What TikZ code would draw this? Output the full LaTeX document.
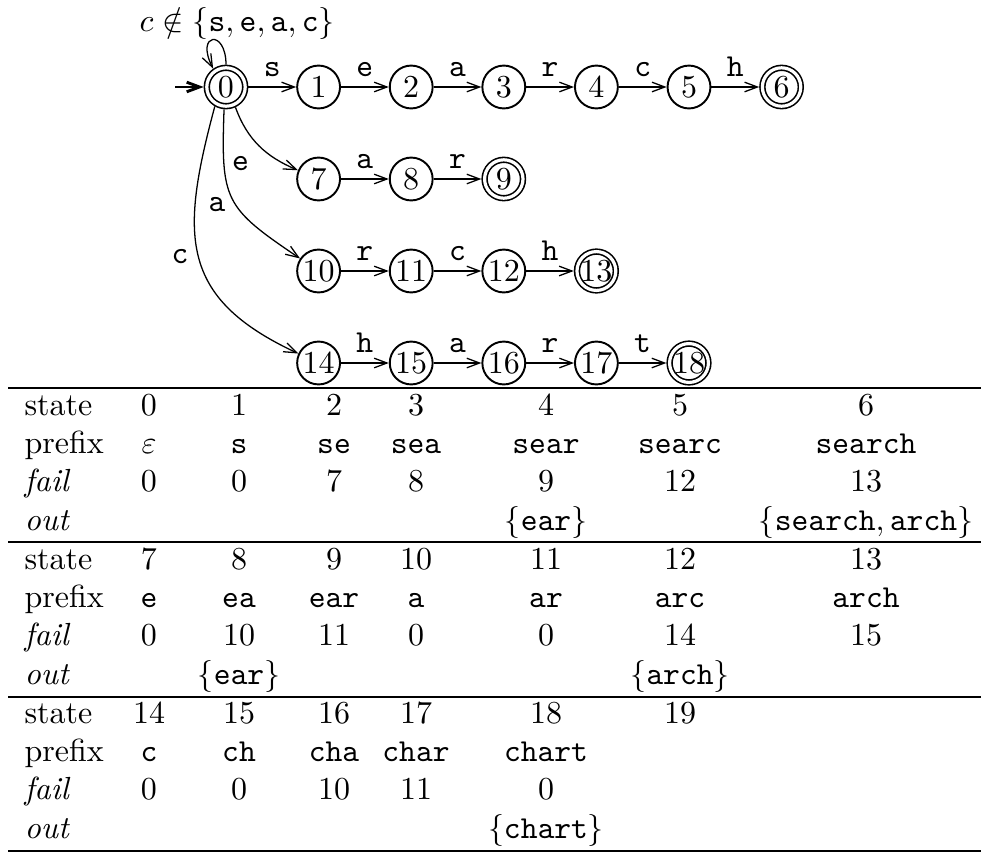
\documentclass[tikz,border=0pt]{standalone}
\usepackage{amsmath}
\usepackage{amssymb}
\usetikzlibrary{arrows.meta}

\begin{document}
\begin{tikzpicture}[x=0.3125pt, y=0.3125pt]
  \tikzset{state/.style={circle, draw, line width=0.6pt, minimum size=13.4pt, inner sep=0pt},
           accept/.style={circle, draw, double, double distance=1pt, line width=0.5pt,
                          minimum size=12pt, inner sep=0pt, outer sep=1pt},
           edge/.style={-{Straight Barb[length=4pt,width=3pt]}, line width=0.4pt},
           sym/.style={font=\ttfamily, inner sep=3pt},
           cell/.style={anchor=base, inner sep=0pt},
           rowname/.style={anchor=base west, inner sep=0pt},
           rule/.style={line width=0.8pt}}
  \useasboundingbox (0,0) rectangle (981,-855);
  % the trie
  \foreach \n/\i/\j in {1/1/0,2/2/0,3/3/0,4/4/0,5/5/0,7/1/1,8/2/1,10/1/2,11/2/2,12/3/2,
                        14/1/3,15/2/3,16/3/3,17/4/3}
    \node[state] (q\n) at (226+92.6*\i,-87-92*\j) {\n};
  \foreach \n/\i/\j in {0/0/0,6/6/0,9/3/1,13/4/2,18/5/3}
    \node[accept] (q\n) at (226+92.6*\i,-87-92*\j) {\n};
  \coordinate (start) at (175,-87);
  \draw[edge, line width=0.9pt] (start) -- (q0);
  \draw[edge] (q0.north) .. controls +(0,36) and +(-18,35.6) .. (q0.125)
    node[pos=0.5, above, inner sep=0pt, xshift=7.6pt] (loopl) {$c\notin\{\mathtt{s},\mathtt{e},\mathtt{a},\mathtt{c}\}$};
  \foreach \a/\b/\ch in {0/1/s,1/2/e,2/3/a,3/4/r,4/5/c,5/6/h,7/8/a,8/9/r,10/11/r,11/12/c,12/13/h,
                         14/15/h,15/16/a,16/17/r,17/18/t}
    \draw[edge] (q\a) -- node[above, sym] (l\a) {\ch} (q\b);
  \draw[edge] (q0.-65) to[out=-70, in=157] node[pos=0.5, below left, sym] (le) {e} (q7);
  \draw[edge] (q0.-95) to[out=-92, in=146, looseness=1.4] node[pos=0.55, left, sym] (la) {a} (q10);
  \draw[edge] (q0.-120) to[out=-105, in=155, looseness=1.3] node[pos=0.5, left, sym] (lc) {c} (q14);
  % the table
  \foreach \y in {388,542,697,851}
    \draw[rule] (8,-\y) -- (981,-\y);
  \foreach \b/\y in {0/415,1/569,2/723} {
    \node[rowname] (state\b) at (24,-\y) {state};
    \node[rowname] (prefix\b) at (24,-\y-38.4) {prefix};
    \node[rowname] (fail\b) at (24,-\y-76.8) {\textit{fail}};
    \node[rowname] (out\b) at (24,-\y-115.2) {\textit{out}};
  }
  \foreach \x/\y/\s/\p/\f in {149/415/0/$\varepsilon$/0, 239/415/1/s/0, 334/415/2/se/7, 416/415/3/sea/8,
                              546/415/4/sear/9, 680/415/5/searc/12, 866/415/6/search/13,
                              149/569/7/e/0, 239/569/8/ea/10, 334/569/9/ear/11, 416/569/10/a/0,
                              546/569/11/ar/0, 680/569/12/arc/14, 866/569/13/arch/15,
                              149/723/14/c/0, 239/723/15/ch/0, 334/723/16/cha/10, 416/723/17/char/11,
                              546/723/18/chart/0} {
    \node[cell] (st\s) at (\x,-\y) {\s};
    \node[cell] (pf\s) at (\x,-\y-38.4) {\texttt{\p}};
    \node[cell] (fl\s) at (\x,-\y-76.8) {\f};
  }
  \node[cell] (st19) at (680,-723) {19};
  \node[cell] (ou4) at (546,-530.2) {$\{\mathtt{ear}\}$};
  \node[cell] (ou6) at (866,-530.2) {$\{\mathtt{search},\mathtt{arch}\}$};
  \node[cell] (ou8) at (239,-684.2) {$\{\mathtt{ear}\}$};
  \node[cell] (ou12) at (680,-684.2) {$\{\mathtt{arch}\}$};
  \node[cell] (ou18) at (546,-838.2) {$\{\mathtt{chart}\}$};
\end{tikzpicture}
\end{document}
